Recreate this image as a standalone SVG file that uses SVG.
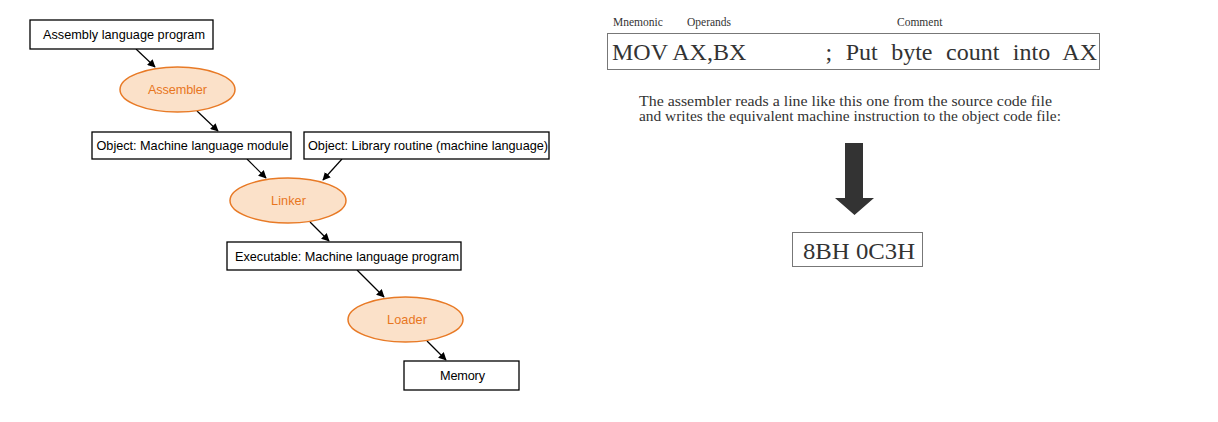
<svg xmlns="http://www.w3.org/2000/svg" width="1218" height="422" viewBox="0 0 1218 422">
<style>
.box{fill:#fff;stroke:#000;stroke-width:1.3}
.ell{fill:#fbe1c9;stroke:#e87a26;stroke-width:1.5}
.bt{font-family:"Liberation Sans",Arial,sans-serif;font-size:12.7px;fill:#000}
.et{font-family:"Liberation Sans",Arial,sans-serif;font-size:12.7px;fill:#e8761e}
.con{stroke:#000;stroke-width:1.2;fill:none;marker-end:url(#ah)}
.ser{font-family:"Liberation Serif","Times New Roman",serif;fill:#333}
</style>
<defs>
<marker id="ah" viewBox="0 0 10 10" refX="9" refY="5" markerWidth="8" markerHeight="8" markerUnits="userSpaceOnUse" orient="auto">
<path d="M0,0 L10,5 L0,10 z" fill="#000"/>
</marker>
</defs>
<rect width="1218" height="422" fill="#fff"/>
<g id="connectors">
<line class="con" x1="136" y1="49" x2="155" y2="67"/>
<line class="con" x1="197" y1="111" x2="218" y2="131"/>
<line class="con" x1="247" y1="159" x2="266" y2="178"/>
<line class="con" x1="342" y1="159" x2="323" y2="180"/>
<line class="con" x1="310" y1="222" x2="329" y2="241"/>
<line class="con" x1="357" y1="270" x2="384" y2="297"/>
<line class="con" x1="427" y1="341" x2="446" y2="360"/>
</g>
<g id="n-asmprog"><rect class="box" x="30" y="20" width="183" height="29"/><text class="bt" x="43" y="39" textLength="162">Assembly language program</text></g>
<g id="n-assembler"><ellipse class="ell" cx="177.5" cy="89.5" rx="57.5" ry="22.5"/><text class="et" x="148" y="94" textLength="59">Assembler</text></g>
<g id="n-objmod"><rect class="box" x="92" y="132" width="199" height="27"/><text class="bt" x="96.5" y="150" textLength="192">Object: Machine language module</text></g>
<g id="n-objlib"><rect class="box" x="304" y="132" width="245" height="27"/><text class="bt" x="308" y="150" textLength="240">Object: Library routine (machine language)</text></g>
<g id="n-linker"><ellipse class="ell" cx="288" cy="200.5" rx="58" ry="22.5"/><text class="et" x="271" y="205" textLength="35">Linker</text></g>
<g id="n-exe"><rect class="box" x="227" y="242" width="234" height="28"/><text class="bt" x="235" y="261" textLength="224">Executable: Machine language program</text></g>
<g id="n-loader"><ellipse class="ell" cx="405.5" cy="319.5" rx="57.5" ry="22.5"/><text class="et" x="387" y="324" textLength="40">Loader</text></g>
<g id="n-memory"><rect class="box" x="404" y="361" width="115" height="29"/><text class="bt" x="440" y="380" textLength="45">Memory</text></g>
<g id="right">
<text class="ser" x="613" y="26" font-size="11.5">Mnemonic</text>
<text class="ser" x="687" y="26" font-size="11.5">Operands</text>
<text class="ser" x="897" y="26" font-size="11.5">Comment</text>
<rect x="607.5" y="33.5" width="492" height="36" fill="#fff" stroke="#777" stroke-width="1"/>
<text class="ser" x="612" y="60" font-size="24">MOV AX,BX</text>
<text class="ser" x="1097" y="60" font-size="24" text-anchor="end" word-spacing="7.5">; Put byte count into AX</text>
<text class="ser" x="639" y="106" font-size="15" textLength="413" lengthAdjust="spacingAndGlyphs">The assembler reads a line like this one from the source code file</text>
<text class="ser" x="639" y="121" font-size="15" textLength="422" lengthAdjust="spacingAndGlyphs">and writes the equivalent machine instruction to the object code file:</text>
<path d="M845,143 H863 V198 H874 L854.5,215 L835,198 H845 Z" fill="#333"/>
<rect x="792.5" y="232.5" width="130" height="34" fill="#fff" stroke="#777" stroke-width="1"/>
<text class="ser" x="803" y="259" font-size="23" textLength="112" lengthAdjust="spacingAndGlyphs">8BH 0C3H</text>
</g>
</svg>
